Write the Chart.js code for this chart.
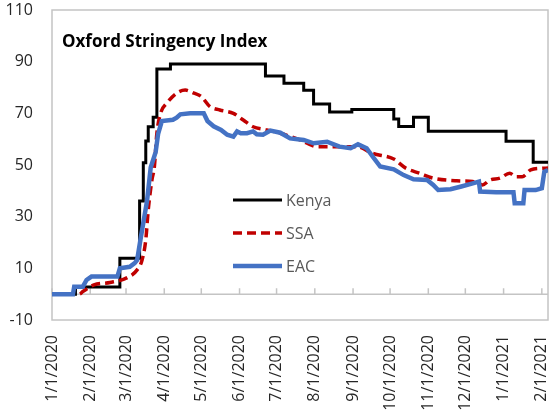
<!DOCTYPE html>
<html>
<head>
<meta charset="utf-8">
<script src="https://cdn.jsdelivr.net/npm/chart.js@4.4.0/dist/chart.umd.min.js"></script>
<style>
html,body{margin:0;padding:0;background:#fff;overflow:hidden;}
#wrap{width:549px;height:418px;}
</style>
</head>
<body>
<div id="wrap"><canvas id="myChart" width="549" height="418"></canvas></div>
<script>
// x values are days counted from 1/1/2020
const monthDays=[0,31,60,91,121,152,182,213,244,274,305,335,366,397];
const monthLabels=["1/1/2020","2/1/2020","3/1/2020","4/1/2020","5/1/2020","6/1/2020","7/1/2020","8/1/2020","9/1/2020","10/1/2020","11/1/2020","12/1/2020","1/1/2021","2/1/2021"];
const yTicks=[-10,10,30,50,70,90,110];
const lastDay=402;

// Kenya: change points of a step series
const kenyaDays=[0,19,55,71,74,76,78,82,85,96,173,188,204,212,225,243,277,281,293,305,368,390,402];
const kenyaValues=[0,2.8,13.9,36.1,50.9,59.3,64.8,68.5,87.2,89.1,84.5,81.6,78.9,73.6,70.5,71.5,67.8,64.9,68.5,63.1,59.2,51.1,51.1];

const ssaDays=[0,22,25,34,47,61,69,73,76,78,81,83,85,88,93,101,108,115,121,128,136,147,155,163,174,185,201,215,231,247,260,277,287,298,309,328,341,349,355,363,371,376,381,388,397,402];
const ssaValues=[0,0,1,3.6,4.5,6.4,9.4,13.2,21,32.6,44.2,49.4,62.3,70,73.9,77.8,79,77.8,76.5,72.6,71.3,70,67.4,64.8,63.6,62.3,59.7,57.1,57.1,57.1,54.5,52.3,48.7,46.8,44.9,43.9,43.6,42.3,44.2,44.9,46.8,45.5,45.5,48.1,48.7,48.8];

const eacDays=[0,17,18,25,28,32,53,55,63,67,69,72,77,80,84,86,89,98,101,104,112,123,126,131,137,142,147,150,153,158,163,166,171,177,185,193,204,212,223,233,242,248,255,260,266,277,285,293,304,309,313,323,331,341,346,347,360,374,375,382,383,392,397,399,402];
const eacValues=[0,0,2.9,2.9,5.5,6.8,6.8,10,10.6,12,13.2,22,36,49,55,62,67,67.5,68.3,69.6,70,70,67,65,63.6,61.7,61,63,62.3,62.3,63,61.9,61.7,63.3,62.5,60.3,59.7,58.4,59,57.1,56.5,58,56.5,53.2,49.4,48.3,46.1,44.5,44.2,42.3,40.3,40.6,41.6,42.9,43.6,39.7,39.5,39.5,35.2,35.2,40.3,40.3,41,47.4,48];

function toPoints(days,values){
    let pts=[];
    for(let i=0;i<days.length;i++){
        pts.push({x:days[i],y:values[i]});
    }
    return pts;
}

Chart.defaults.font.family="'Open Sans', sans-serif";

// frame, zero line with month ticks, title and legend inside the plot
const framePlugin={
    id:"frame",
    beforeDatasetsDraw(chart){
        const ctx=chart.ctx;
        const a=chart.chartArea;
        const x=chart.scales.x;
        const y=chart.scales.y;
        ctx.save();
        ctx.strokeStyle="#C4C4C4";
        ctx.lineWidth=1.5;
        ctx.strokeRect(a.left,a.top,a.right-a.left,a.bottom-a.top);
        const y0=y.getPixelForValue(0);
        ctx.beginPath();
        ctx.moveTo(a.left,y0);
        ctx.lineTo(a.right,y0);
        monthDays.forEach(function(d){
            const px=x.getPixelForValue(d);
            ctx.moveTo(px,y0);
            ctx.lineTo(px,y0-6);
        });
        ctx.stroke();
        ctx.restore();
    },
    afterDraw(chart){
        const ctx=chart.ctx;
        const a=chart.chartArea;
        ctx.save();
        ctx.fillStyle="#000";
        ctx.font="bold 17px 'Open Sans'";
        ctx.textBaseline="alphabetic";
        ctx.fillText("Oxford Stringency Index",a.left+10,a.top+37);

        const offsets=[190,223,256];
        chart.data.datasets.forEach(function(ds,k){
            const ly=a.top+offsets[k];
            ctx.beginPath();
            ctx.strokeStyle=ds.borderColor;
            ctx.lineWidth=ds.borderWidth;
            ctx.setLineDash(ds.borderDash||[]);
            ctx.moveTo(a.left+181,ly);
            ctx.lineTo(a.left+230,ly);
            ctx.stroke();
            ctx.setLineDash([]);
            ctx.fillStyle="#595959";
            ctx.font="16px 'Open Sans'";
            ctx.textBaseline="middle";
            ctx.fillText(ds.label,a.left+234,ly+1);
        });
        ctx.restore();
    }
};

const ctx=document.getElementById("myChart").getContext("2d");
const myChart=new Chart(ctx,{
    type:"line",
    data:{
        datasets:[{
            label:"Kenya",
            data:toPoints(kenyaDays,kenyaValues),
            borderColor:"#000000",
            borderWidth:3,
            stepped:true,
            pointRadius:0,
            order:3
        },{
            label:"SSA",
            data:toPoints(ssaDays,ssaValues),
            borderColor:"#C00000",
            borderWidth:3.5,
            borderDash:[9,5],
            tension:0.3,
            cubicInterpolationMode:"monotone",
            pointRadius:0,
            order:2
        },{
            label:"EAC",
            data:toPoints(eacDays,eacValues),
            borderColor:"#4472C4",
            borderWidth:4.5,
            pointRadius:0,
            order:1
        }]
    },
    plugins:[framePlugin],
    options:{
        responsive:false,
        animation:false,
        layout:{padding:{top:10,right:1,left:0,bottom:0}},
        plugins:{
            legend:{display:false},
            tooltip:{enabled:false}
        },
        scales:{
            x:{
                type:"linear",
                min:0,
                max:lastDay,
                grid:{display:false,drawTicks:false},
                border:{display:false},
                afterBuildTicks:function(scale){
                    scale.ticks=monthDays.map(function(d){return {value:d};});
                },
                afterFit:function(scale){
                    scale.height=98;
                    scale.paddingLeft=0;
                    scale.paddingRight=0;
                },
                ticks:{
                    autoSkip:false,
                    minRotation:90,
                    maxRotation:90,
                    padding:15,
                    color:"#262626",
                    font:{size:16},
                    callback:function(value,index){
                        return monthLabels[index];
                    }
                }
            },
            y:{
                min:-10,
                max:110,
                grid:{display:false,drawTicks:false},
                border:{display:false},
                afterBuildTicks:function(scale){
                    scale.ticks=yTicks.map(function(v){return {value:v};});
                },
                afterFit:function(scale){
                    scale.width=52;
                    scale.paddingTop=0;
                    scale.paddingBottom=0;
                },
                ticks:{
                    padding:19,
                    color:"#262626",
                    font:{size:16}
                }
            }
        }
    }
});
</script>
</body>
</html>
